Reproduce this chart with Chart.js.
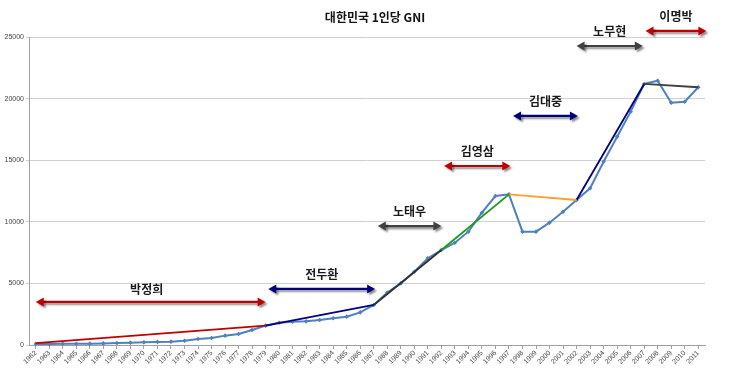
<!DOCTYPE html>
<html>
<head>
<meta charset="utf-8">
<script src="https://cdn.jsdelivr.net/npm/chart.js@4/dist/chart.umd.min.js"></script>
<style>
  html, body { margin: 0; padding: 0; background: #fff; }
  #wrap { width: 741px; height: 387px; }
</style>
</head>
<body>
<div id="wrap"><canvas id="gniChart"></canvas></div>
<script>
var years = ['1962','1963','1964','1965','1966','1967','1968','1969','1970','1971',
             '1972','1973','1974','1975','1976','1977','1978','1979','1980','1981',
             '1982','1983','1984','1985','1986','1987','1988','1989','1990','1991',
             '1992','1993','1994','1995','1996','1997','1998','1999','2000','2001',
             '2002','2003','2004','2005','2006','2007','2008','2009','2010','2011'];

var gni = [90, 90, 100, 100, 110, 130, 160, 190, 220, 250,
           270, 350, 490, 570, 760, 890, 1220, 1570, 1810, 1890,
           1920, 2030, 2170, 2300, 2650, 3250, 4250, 5000, 5950, 7040,
           7710, 8300, 9200, 10740, 12090, 12230, 9200, 9200, 9930, 10820,
           11770, 12720, 14880, 16910, 18940, 21190, 21450, 19670, 19750, 20920];

// presidents: trend line endpoints + arrow span/level
var presidents = ['박정희', '전두환', '노태우', '김영삼', '김대중', '노무현', '이명박'];
var trendFrom = ['1962', '1979', '1987', '1992', '1997', '2002', '2007'];
var trendTo = ['1979', '1987', '1992', '1997', '2002', '2007', '2011'];
var trendFromValue = [150, 1570, 3250, 7710, 12230, 11770, 21190];
var trendToValue = [1570, 3250, 7710, 12230, 11770, 21190, 20920];
var arrowFrom = [0, 17.2, 25.3, 30.2, 35.3, 40.0, 45.1];
var arrowTo = [17.0, 25.1, 30.0, 35.1, 40.1, 44.9, 49.6];
var arrowLevel = [3500, 4550, 9650, 14530, 18590, 24270, 25490];

var yTicks = [0, 5000, 10000, 15000, 20000, 25000];

var trendColors = ['#c00000', '#000080', '#303030', '#1a9a1a', '#ffa028', '#000080', '#404040'];
var arrowColors = ['#c00000', '#000080', '#404040', '#c00000', '#000080', '#404040', '#c00000'];

var datasets = [{
  label: 'GNI',
  data: gni,
  borderColor: '#4f81bd',
  backgroundColor: '#4f81bd',
  borderWidth: 2,
  pointStyle: 'rectRot',
  pointRadius: 2.3,
  pointBorderWidth: 0,
  tension: 0,
  order: 2
}];

for (var i = 0; i < presidents.length; i++) {
  datasets.push({
    label: presidents[i],
    data: [{x: trendFrom[i], y: trendFromValue[i]}, {x: trendTo[i], y: trendToValue[i]}],
    borderColor: trendColors[i],
    borderWidth: 1.8,
    pointRadius: 0,
    tension: 0,
    order: 1
  });
}

var drawArrow = function(ctx, x1, x2, y, color) {
  var head = 8, half = 4.5;
  ctx.save();
  ctx.shadowColor = 'rgba(0,0,0,0.45)';
  ctx.shadowOffsetX = 2;
  ctx.shadowOffsetY = 2;
  ctx.shadowBlur = 2;
  ctx.strokeStyle = color;
  ctx.fillStyle = color;
  ctx.lineWidth = 2.2;
  ctx.beginPath();
  ctx.moveTo(x1 + head - 1, y);
  ctx.lineTo(x2 - head + 1, y);
  ctx.stroke();
  ctx.beginPath();
  ctx.moveTo(x1, y);
  ctx.lineTo(x1 + head, y - half);
  ctx.lineTo(x1 + head, y + half);
  ctx.closePath();
  ctx.fill();
  ctx.beginPath();
  ctx.moveTo(x2, y);
  ctx.lineTo(x2 - head, y - half);
  ctx.lineTo(x2 - head, y + half);
  ctx.closePath();
  ctx.fill();
  ctx.restore();
};

var annotations = {
  id: 'annotations',
  afterDatasetsDraw: function(chart) {
    var ctx = chart.ctx;
    var xs = chart.scales.x, ys = chart.scales.y;
    for (var i = 0; i < presidents.length; i++) {
      var x1 = xs.getPixelForValue(arrowFrom[i]);
      var x2 = xs.getPixelForValue(arrowTo[i]);
      var y = ys.getPixelForValue(arrowLevel[i]);
      drawArrow(ctx, x1, x2, y, arrowColors[i]);
      ctx.save();
      ctx.fillStyle = '#1a1a1a';
      ctx.font = 'bold 12px "Noto Sans CJK KR"';
      ctx.textAlign = 'center';
      ctx.textBaseline = 'middle';
      // first label sits a little closer to its arrow in the original
      ctx.fillText(presidents[i], (x1 + x2) / 2 - (i === 0 ? 4 : 0), y - (i === 0 ? 12 : 15));
      ctx.restore();
    }
    ctx.save();
    ctx.fillStyle = '#111';
    ctx.font = 'bold 12px "Noto Sans CJK KR"';
    ctx.textAlign = 'center';
    ctx.textBaseline = 'middle';
    ctx.fillText('대한민국 1인당 GNI', 375, 17);
    ctx.restore();
  }
};

new Chart(document.getElementById('gniChart').getContext('2d'), {
  type: 'line',
  data: {labels: years, datasets: datasets},
  options: {
    responsive: true,
    maintainAspectRatio: false,
    animation: false,
    clip: false,
    layout: {padding: {top: 37, right: 36, left: 0, bottom: 0}},
    plugins: {legend: {display: false}, title: {display: false}, tooltip: {enabled: false}},
    scales: {
      x: {
        type: 'category',
        offset: true,
        grid: {display: true, drawOnChartArea: false, tickLength: 4, color: '#a0a0a0'},
        border: {color: '#a0a0a0'},
        ticks: {
          autoSkip: false, maxRotation: 45, minRotation: 45,
          font: {family: 'Liberation Sans', size: 7}, color: '#444', padding: 0
        },
        afterFit: function(scale) { scale.height = 42; }
      },
      y: {
        min: 0, max: 25000,
        afterBuildTicks: function(scale) {
          scale.ticks = yTicks.map(function(v) { return {value: v}; });
        },
        grid: {color: '#d0d0d0', tickLength: 3},
        border: {color: '#a0a0a0'},
        ticks: {
          font: {family: 'Liberation Sans', size: 7}, color: '#444', padding: 2,
          callback: function(v) { return String(v); }
        },
        afterFit: function(scale) { scale.width = 29; }
      }
    }
  },
  plugins: [annotations]
});
</script>
</body>
</html>
